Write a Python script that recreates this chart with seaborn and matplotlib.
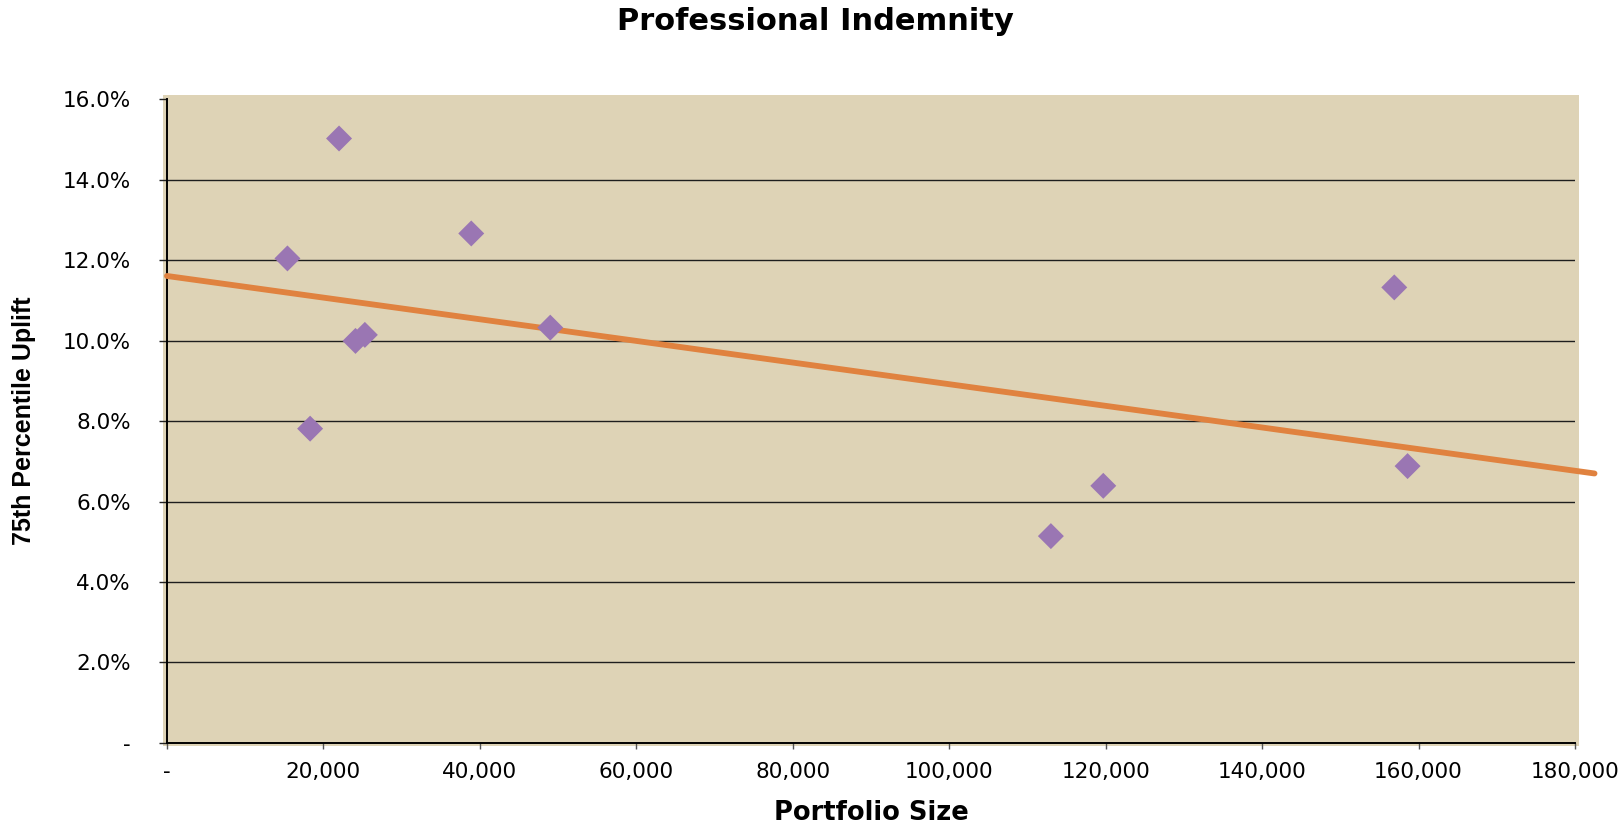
import numpy as np
import pandas as pd
import matplotlib
matplotlib.use("Agg")
import matplotlib.pyplot as plt
import seaborn as sns
from matplotlib.patches import Rectangle
from matplotlib.ticker import FuncFormatter

# data
portfolio_size = [15400, 22000, 18300, 24100, 25300, 38900, 49000, 113000, 119700, 156900, 158600]
uplift_75th = [0.1204, 0.1502, 0.0781, 0.0999, 0.1014, 0.1266, 0.1032, 0.0514, 0.0639, 0.1132, 0.0688]
y_ticks = [0.0, 0.02, 0.04, 0.06, 0.08, 0.10, 0.12, 0.14, 0.16]
x_ticks = [0, 20000, 40000, 60000, 80000, 100000, 120000, 140000, 160000, 180000]

BG = "#ded3b6"
PURPLE = "#9a76b3"
ORANGE = "#e0823f"

df = pd.DataFrame({"size": portfolio_size, "uplift": uplift_75th})

# linear trendline as excel does it
slope, intercept = np.polyfit(df["size"], df["uplift"], 1)
trend_x = np.linspace(0, 182500, 50)
trend = pd.DataFrame({"size": trend_x, "uplift": intercept + slope * trend_x})

sns.set_style("white")
plt.rcParams["font.family"] = ["DejaVu Sans"]
plt.rcParams["text.color"] = "black"
plt.rcParams["axes.labelcolor"] = "black"
plt.rcParams["xtick.color"] = "black"
plt.rcParams["ytick.color"] = "black"

fig = plt.figure(figsize=(16.21, 8.26), dpi=100)
ax = fig.add_axes([0.1030, 0.1005, 0.8686, 0.7796])

# beige plot area, a little larger than the axes box
fig.add_artist(Rectangle((163 / 1621, 1 - 746 / 826), (1579 - 163) / 1621, (746 - 95) / 826,
                         transform=fig.transFigure, facecolor=BG, edgecolor="none", zorder=0))
ax.set_facecolor(BG)

ax.set_xlim(0, 180000)
ax.set_ylim(0, 0.16)

for yv in y_ticks[1:-1]:
    ax.axhline(yv, color="#1e1e1e", lw=1.0, zorder=1)

sns.lineplot(data=trend, x="size", y="uplift", ax=ax, color=ORANGE, lw=4.2,
             clip_on=False, zorder=3, sort=False)
sns.scatterplot(data=df, x="size", y="uplift", ax=ax, marker="D", s=175,
                color=PURPLE, edgecolor="none", zorder=4)

ax.set_xticks(x_ticks)
ax.set_yticks(y_ticks)
ax.xaxis.set_major_formatter(FuncFormatter(lambda v, p: "-" if v == 0 else f"{v:,.0f}"))
ax.yaxis.set_major_formatter(FuncFormatter(lambda v, p: "-" if v == 0 else f"{v * 100:.1f}%"))
ax.tick_params(axis="y", direction="out", length=6, width=1, color="#222222",
               labelsize=15.5, pad=20, left=True)
ax.tick_params(axis="x", direction="out", length=4, width=1, color="#555555",
               labelsize=15.5, pad=10, bottom=True)

for side in ["top", "right"]:
    ax.spines[side].set_visible(False)
for side in ["left", "bottom"]:
    ax.spines[side].set_color("black")
    ax.spines[side].set_linewidth(1.4)

ax.set_xlabel("Portfolio Size", fontsize=18.5, fontweight="bold")
ax.xaxis.set_label_coords(0.5, -0.088)
ax.set_ylabel("75th Percentile Uplift", fontsize=18, fontweight="bold",
              family=["Liberation Sans", "DejaVu Sans"])
ax.yaxis.set_label_coords(-0.093, 0.5)

fig.suptitle("Professional Indemnity", x=0.503, y=0.992, va="top",
             fontsize=22, fontweight="bold")

fig.savefig("out.png", dpi=100)
